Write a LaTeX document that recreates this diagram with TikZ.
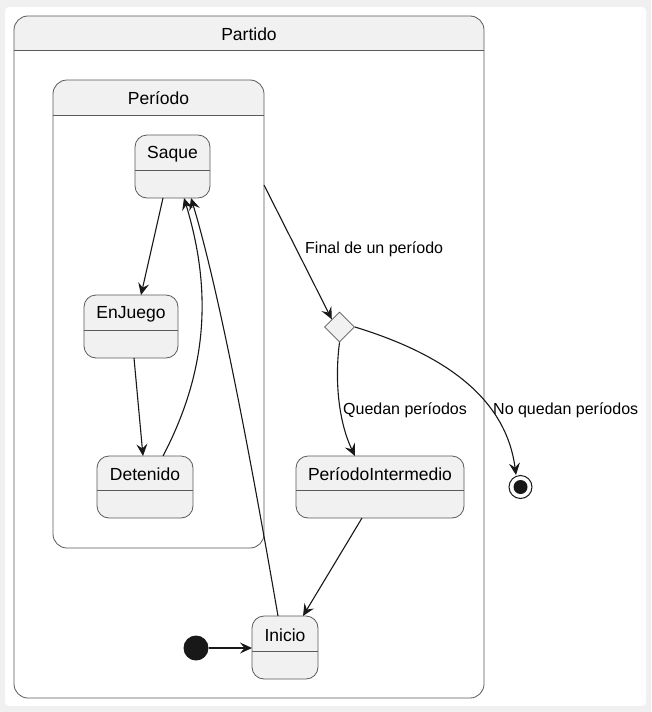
\documentclass[tikz,border=0pt]{standalone}
\usepackage{fontspec}
\setmainfont{Liberation Sans}
\usetikzlibrary{arrows.meta,shapes.geometric,fit}
\definecolor{stfill}{HTML}{F1F1F1}
\definecolor{stline}{HTML}{5A5A5A}
\definecolor{edgecol}{HTML}{181818}
\definecolor{pagebg}{HTML}{F0F0F0}
\tikzset{
  stbox/.style={draw=stline, fill=stfill, rounded corners=12pt, inner sep=0pt, outer sep=0pt, line width=0.8pt},
  compbox/.style={fill=white, rounded corners=14pt, inner sep=0pt, outer sep=0pt},
  sepline/.style={draw=stline, line width=0.8pt},
  stlabel/.style={font=\fontsize{17.5}{20}\selectfont, text=black, inner sep=0pt},
  edgelabel/.style={font=\fontsize{16}{19}\selectfont, text=black, inner sep=0pt, anchor=west},
  conn/.style={draw=edgecol, line width=1.1pt, -{Stealth[length=12pt,width=11pt,inset=4.5pt]}},
}
\newcommand\mkstate[7]{%
  \node[stbox, fit={(#2,#3) (#4,#5)}] (#1) {};
  \draw[sepline] (#2,#6) -- (#4,#6);
  \node[stlabel] (#1title) at ({(#2+#4)/2},{(#3+#6)/2+1.5}) {#7};
}
\newcommand\mkcomposite[8]{%
  \node[compbox, fit={(#2,#3) (#4,#5)}] (#1) {};
  \begin{scope}
    \clip[rounded corners=14pt] (#2,#3) rectangle (#4,#5);
    \fill[stfill] (#2,#3) rectangle (#4,#6);
  \end{scope}
  \draw[sepline] (#2,#6) -- (#4,#6);
  \draw[sepline, rounded corners=14pt] (#2,#3) rectangle (#4,#5);
  \node[stlabel] (#1title) at ({(#2+#4)/2},{(#3+#6)/2+1}) {#7};
}
\begin{document}
\begin{tikzpicture}[x=1pt,y=-1pt]
\fill[pagebg] (0,0) rectangle (651,712);
\useasboundingbox (0,0) rectangle (651,712);
\fill[white, rounded corners=4pt] (5,7) rectangle (646,706);

\mkcomposite{partido}{14}{16}{484}{698}{50}{Partido}{}
\mkcomposite{periodo}{53}{80}{264}{548}{115}{Período}{}

\mkstate{saque}{135}{135}{210}{198}{170}{Saque}
\mkstate{enjuego}{84}{295}{178}{358}{330}{EnJuego}
\mkstate{detenido}{97}{456}{193}{518}{490}{Detenido}
\mkstate{pinter}{296}{456}{464}{518}{490}{PeríodoIntermedio}
\mkstate{inicio}{252}{616}{318}{679}{651}{Inicio}

\node[diamond, draw=stline, fill=stfill, line width=0.8pt, minimum width=30pt, minimum height=30pt, inner sep=0pt] (choice) at (339.5,327) {};
\node[circle, draw=edgecol, fill=white, line width=1pt, minimum size=23pt, inner sep=0pt] (fin) at (520.5,487) {};
\node[circle, fill=edgecol, minimum size=14pt, inner sep=0pt] (fincore) at (fin) {};
\node[circle, fill=edgecol, minimum size=25pt, inner sep=0pt] (ini) at (196,648) {};

\coordinate (pout) at (periodo.east |- 0,185);

\draw[conn] (saque.south -| 163,0) -- (enjuego.north -| 141,0);
\draw[conn] (enjuego.south -| 134,0) -- (detenido.north -| 143,0);
\draw[conn] (detenido.north -| 163,0) .. controls (208,370) and (212,290) .. (saque.south -| 184,0);
\draw[conn] (inicio.north -| 278,0) .. controls (258,500) and (222,300) .. (saque.south -| 191,0);
\draw[conn] (pout) -- (choice.north west);
\draw[conn] (choice.south) .. controls (334,385) and (340,425) .. (pinter.north -| 355,0);
\draw[conn] (choice.east) .. controls (430,350) and (505,390) .. (fin.north -| 516,0);
\draw[conn] (pinter.south -| 362,0) -- (inicio.north -| 303,0);
\draw[conn] (ini) -- (inicio.west |- ini);

\node[edgelabel] (lblfinal) at (305,249) {Final de un período};
\node[edgelabel] (lblqued) at (343,410) {Quedan períodos};
\node[edgelabel] (lblnoq) at (493,410) {No quedan períodos};
\end{tikzpicture}
\end{document}
